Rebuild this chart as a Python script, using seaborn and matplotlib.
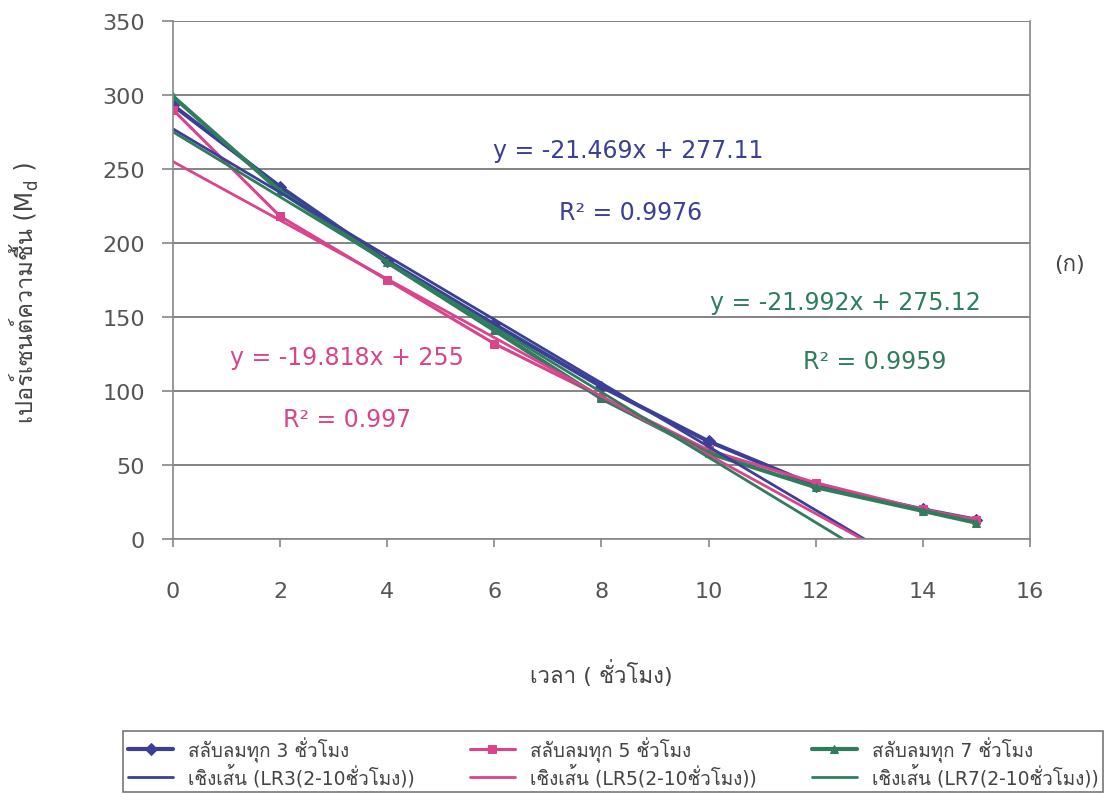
import numpy as np
import pandas as pd
import matplotlib
matplotlib.use("Agg")
import matplotlib.pyplot as plt
import seaborn as sns
from matplotlib import font_manager
from matplotlib.ft2font import FT2Font

# ---------------- data ----------------
hours = [0, 2, 4, 6, 8, 10, 12, 14, 15]
moist_3h = [293, 238, 188, 145, 103, 66, 36, 20, 13]
moist_5h = [290, 218, 175, 132, 96, 60, 38, 20, 13]
moist_7h = [299, 235, 187, 141, 95, 58, 35, 19, 11]

series_labels = ["สลับลมทุก 3 ชั่วโมง", "สลับลมทุก 5 ชั่วโมง", "สลับลมทุก 7 ชั่วโมง"]
trend_labels = ["เชิงเส้น (LR3(2-10ชั่วโมง))", "เชิงเส้น (LR5(2-10ชั่วโมง))",
                "เชิงเส้น (LR7(2-10ชั่วโมง))"]
trend_slopes = [-21.469, -19.818, -21.992]
trend_intercepts = [277.11, 255.0, 275.12]
eq_texts = ["y = -21.469x + 277.11", "y = -19.818x + 255", "y = -21.992x + 275.12"]
r2_texts = ["R² = 0.9976", "R² = 0.997", "R² = 0.9959"]
trend_x = [0, 15]

x_ticks = [0, 2, 4, 6, 8, 10, 12, 14, 16]
y_ticks = [0, 50, 100, 150, 200, 250, 300, 350]

ylabel_main = "เปอร์เซนต์ความชื้น (M"
ylabel_sub = "d"
ylabel_end = " )"
xlabel = "เวลา ( ชั่วโมง)"

colors = ["#3b3f96", "#d9448c", "#2f7d5c"]
markers = ["D", "s", "^"]

# ---------------- fonts ----------------
thai_font = None
for f in font_manager.fontManager.ttflist:
    try:
        ft = FT2Font(f.fname)
        if 0x0E01 in ft.get_charmap():
            thai_font = f.name
            break
    except Exception:
        pass

sns.set_theme(style="white")
fam = ["DejaVu Sans"]
if thai_font:
    fam.append(thai_font)
plt.rcParams["font.family"] = fam

W, H = 1111, 803
fig = plt.figure(figsize=(11.11, 8.03), dpi=100)
ax = fig.add_axes([0.1557, 0.3275, 0.927 - 0.1557, 0.9726 - 0.3275])

series = [moist_3h, moist_5h, moist_7h]
lws = [3.0, 2.2, 3.0]
for i in range(3):
    df = pd.DataFrame({"x": hours, "y": series[i]})
    sns.lineplot(data=df, x="x", y="y", ax=ax, color=colors[i], marker=markers[i],
                 markersize=6, linewidth=lws[i], markeredgecolor=colors[i],
                 label=series_labels[i])
for i in range(3):
    tx = np.array(trend_x, dtype=float)
    ty = trend_slopes[i] * tx + trend_intercepts[i]
    dft = pd.DataFrame({"x": tx, "y": ty})
    sns.lineplot(data=dft, x="x", y="y", ax=ax, color=colors[i], linewidth=2.0,
                 label=trend_labels[i])

h, l = ax.get_legend_handles_labels()
ax.get_legend().remove()

ax.set_xlim(0, 16)
ax.set_ylim(0, 350)
ax.set_xticks(x_ticks)
ax.set_yticks(y_ticks)
ax.yaxis.grid(True, color="#6f6f6f", linewidth=1.2)
ax.xaxis.grid(False)
for s in ax.spines.values():
    s.set_color("#888888")
    s.set_linewidth(1.2)
ax.spines["top"].set_visible(False)
ax.tick_params(axis="y", direction="out", length=8, width=1.2, color="#888888",
               labelsize=16, labelcolor="#555555", pad=12, left=True)
ax.tick_params(axis="x", direction="out", length=6, width=1.2, color="#888888",
               labelsize=16, labelcolor="#555555", pad=24, bottom=True)

ax.set_xlabel(xlabel, fontsize=16, color="#444444", labelpad=42)
ax.set_ylabel("")

# equation annotations
ax.text(8.5, 263, eq_texts[0], color=colors[0], fontsize=17, ha="center", va="center")
ax.text(8.55, 221, r2_texts[0], color=colors[0], fontsize=17, ha="center", va="center")
ax.text(3.25, 123, eq_texts[1], color=colors[1], fontsize=17, ha="center", va="center")
ax.text(3.25, 81, r2_texts[1], color=colors[1], fontsize=17, ha="center", va="center")
ax.text(12.55, 160, eq_texts[2], color=colors[2], fontsize=17, ha="center", va="center")
ax.text(13.1, 120, r2_texts[2], color=colors[2], fontsize=17, ha="center", va="center")

fig.text(0.963, 0.67, "(ก)", fontsize=16, color="#444444", ha="center", va="center")

# y label built from pieces (subscript d)
base_x = 32 / W
kw = dict(rotation=90, rotation_mode="anchor", ha="left", va="baseline", color="#444444")
t1 = fig.text(base_x, 0, ylabel_main, fontsize=17, **kw)
t2 = fig.text(base_x + 5 / W, 0, ylabel_sub, fontsize=12, **kw)
t3 = fig.text(base_x, 0, ylabel_end, fontsize=17, **kw)
fig.canvas.draw()
r = fig.canvas.get_renderer()
L1 = t1.get_window_extent(r).height
L2 = t2.get_window_extent(r).height
L3 = t3.get_window_extent(r).height
total = L1 + L2 + L3 + 2
center = 292.0
start = (H - center) - total / 2.0
t1.set_position((base_x, start / H))
t2.set_position((base_x + 5 / W, (start + L1 + 1) / H))
t3.set_position((base_x, (start + L1 + L2 + 2) / H))

order = [0, 3, 1, 4, 2, 5]
leg = fig.legend([h[k] for k in order], [l[k] for k in order], ncol=3,
                 loc="lower left", bbox_to_anchor=(0.111, 0.0125, 0.882, 0.075),
                 mode="expand", frameon=True, fancybox=False, fontsize=13.5,
                 handlelength=2.4, borderaxespad=0, labelspacing=0.1,
                 borderpad=0.25, labelcolor="#444444")
leg.get_frame().set_edgecolor("#555555")
leg.get_frame().set_linewidth(1.2)

fig.savefig("out.png", dpi=100)
